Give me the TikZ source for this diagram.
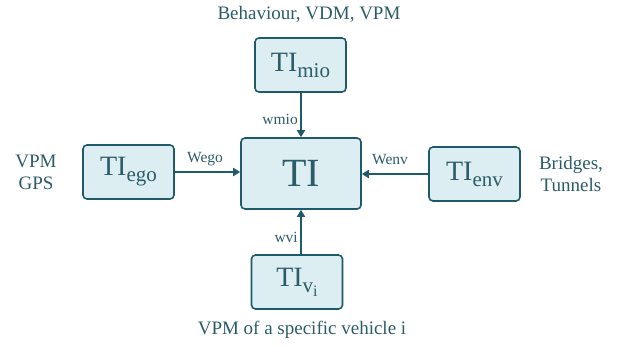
\documentclass[tikz,border=0pt]{standalone}
\usepackage{fontspec}
\setmainfont{Liberation Serif}
\usetikzlibrary{arrows.meta}
\definecolor{boxfill}{HTML}{DDEEF3}
\definecolor{boxline}{HTML}{1E5A6A}
\definecolor{txt}{HTML}{2B5C68}
\newcommand{\subtx}[1]{\raisebox{-6pt}{\fontsize{21}{21}\selectfont #1}}
\begin{document}
\begin{tikzpicture}[x=1pt,y=-1pt,
  tibox/.style={draw=boxline, fill=boxfill, line width=1.6pt, rounded corners=4pt,
    minimum width=91pt, minimum height=54pt, inner sep=0pt, text=txt,
    font=\fontsize{28}{28}\selectfont},
  arr/.style={draw=boxline, line width=2pt, -{Triangle[length=7pt,width=8pt]}},
  wlab/.style={text=txt, font=\fontsize{15.5}{15.5}\selectfont, inner sep=0pt},
  side/.style={text=txt, font=\fontsize{19}{22}\selectfont, align=center, inner sep=0pt}]
\useasboundingbox (0,0) rectangle (622,346);
\node[tibox, minimum width=120pt, minimum height=71pt, font=\fontsize{40}{40}\selectfont] (TI) at (301,173.5) {TI};
\node[tibox] (mio) at (300.5,65) {TI\subtx{mio}};
\node[tibox] (ego) at (128.5,172) {TI\subtx{ego}};
\node[tibox] (env) at (474.5,174) {TI\subtx{env}};
\node[tibox] (vi) at (297,282) {TI\raisebox{-6pt}{\fontsize{21}{21}\selectfont v\raisebox{-4pt}{\fontsize{16}{16}\selectfont i}}};
\draw[arr] (mio.south -| TI.north) -- (TI.north);
\draw[arr] (vi.north -| TI.south) -- (TI.south);
\draw[arr] (ego.east) -- (ego.east -| TI.west);
\draw[arr] (env.west) -- (env.west -| TI.east);
\node[wlab, anchor=east] (lmio) at (298,119) {wmio};
\node[wlab] (lego) at (205,159) {Wego};
\node[wlab] (lenv) at (390,160) {Wenv};
\node[wlab, anchor=east] (lvi) at (298,237) {wvi};
\node[side] (top) at (309,14) {Behaviour, VDM, VPM};
\node[side] (left) at (36,172) {VPM\\GPS};
\node[side] (right) at (571,173.5) {Bridges,\\Tunnels};
\node[side] (bottom) at (302,330) {VPM of a specific vehicle i};
\end{tikzpicture}
\end{document}
